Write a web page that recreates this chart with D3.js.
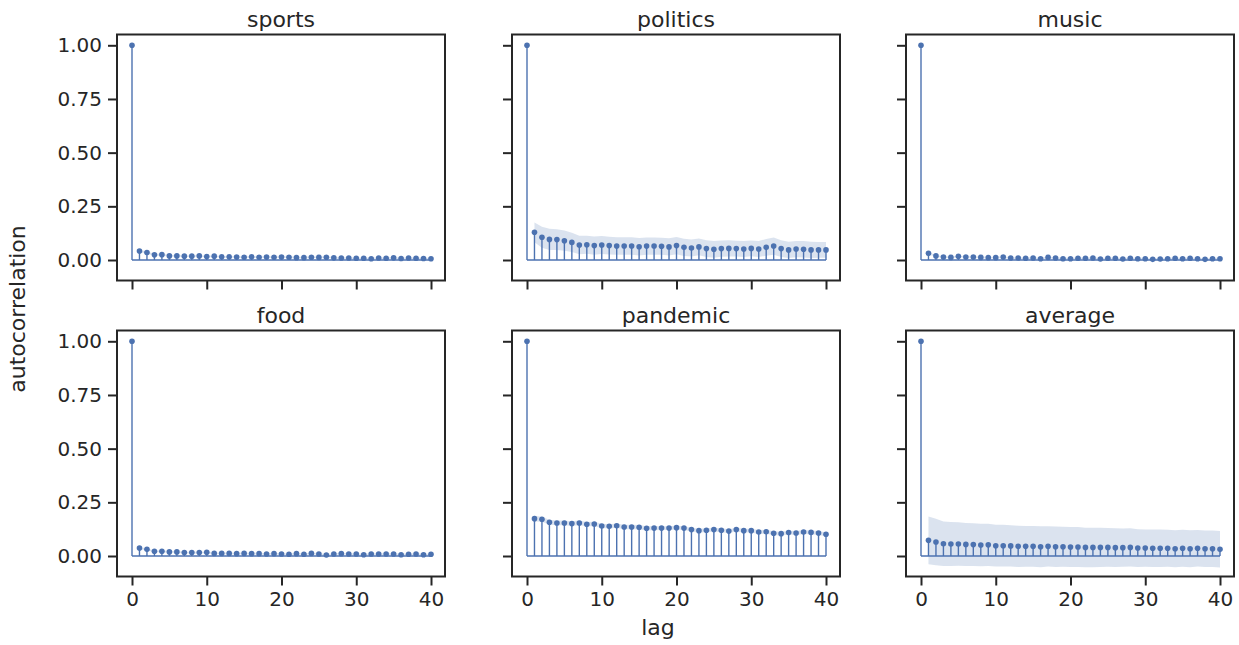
<!DOCTYPE html>
<html>
<head>
<meta charset="utf-8">
<script src="https://d3js.org/d3.v7.min.js"></script>
<style>
  body { margin: 0; background: #fff; }
  text { font-family: "DejaVu Sans", sans-serif; fill: #262626; }
</style>
</head>
<body>
<div id="chart"></div>
<script>
// lag 0..40
const lags = d3.range(0, 41)
const topics = ["sports", "politics", "music", "food", "pandemic", "average"]
const yTicks = [0, 0.25, 0.5, 0.75, 1]
const xTicks = [0, 10, 20, 30, 40]

// autocorrelation per lag (lag 0 .. 40)
const sports = [1, 0.042, 0.035, 0.024, 0.025, 0.019, 0.019, 0.018, 0.018, 0.019, 0.016,
  0.018, 0.015, 0.015, 0.014, 0.013, 0.015, 0.013, 0.014, 0.013, 0.014,
  0.013, 0.011, 0.011, 0.013, 0.012, 0.013, 0.010, 0.009, 0.009, 0.008,
  0.008, 0.006, 0.009, 0.008, 0.010, 0.007, 0.009, 0.008, 0.007, 0.006]
const politics = [1, 0.129, 0.106, 0.096, 0.095, 0.090, 0.082, 0.070, 0.071, 0.067, 0.070,
  0.067, 0.065, 0.065, 0.065, 0.062, 0.065, 0.065, 0.064, 0.061, 0.067,
  0.059, 0.056, 0.061, 0.053, 0.050, 0.053, 0.054, 0.053, 0.051, 0.054,
  0.051, 0.059, 0.065, 0.053, 0.047, 0.051, 0.050, 0.047, 0.047, 0.047]
const music = [1, 0.031, 0.019, 0.014, 0.012, 0.017, 0.014, 0.014, 0.012, 0.011, 0.011,
  0.014, 0.009, 0.009, 0.008, 0.009, 0.006, 0.012, 0.009, 0.006, 0.006,
  0.008, 0.008, 0.009, 0.005, 0.008, 0.008, 0.005, 0.008, 0.006, 0.006,
  0.003, 0.005, 0.006, 0.008, 0.006, 0.008, 0.006, 0.003, 0.006, 0.006]
const food = [1, 0.037, 0.031, 0.022, 0.022, 0.019, 0.019, 0.016, 0.016, 0.016, 0.017,
  0.012, 0.012, 0.012, 0.011, 0.012, 0.011, 0.011, 0.009, 0.011, 0.009,
  0.008, 0.011, 0.008, 0.012, 0.009, 0.005, 0.009, 0.011, 0.009, 0.009,
  0.006, 0.009, 0.009, 0.009, 0.009, 0.006, 0.008, 0.009, 0.006, 0.008]
const pandemic = [1, 0.174, 0.171, 0.157, 0.154, 0.154, 0.151, 0.154, 0.148, 0.149, 0.140,
  0.138, 0.141, 0.135, 0.135, 0.134, 0.129, 0.130, 0.130, 0.130, 0.132,
  0.130, 0.123, 0.118, 0.120, 0.123, 0.120, 0.116, 0.123, 0.118, 0.118,
  0.112, 0.113, 0.106, 0.104, 0.109, 0.107, 0.112, 0.110, 0.107, 0.101]
const average = [1, 0.073, 0.065, 0.057, 0.056, 0.056, 0.054, 0.053, 0.051, 0.052, 0.048,
  0.048, 0.047, 0.045, 0.045, 0.045, 0.043, 0.045, 0.043, 0.043, 0.042,
  0.042, 0.040, 0.040, 0.040, 0.040, 0.039, 0.039, 0.040, 0.037, 0.037,
  0.036, 0.036, 0.036, 0.034, 0.036, 0.034, 0.036, 0.034, 0.034, 0.031]

// confidence band half-width per lag (lag 1 .. 40)
const sportsBand = [0.006, 0.005, 0.005, 0.004, 0.004, 0.004, 0.004, 0.004, 0.004, 0.004,
  0.004, 0.004, 0.004, 0.004, 0.004, 0.004, 0.004, 0.004, 0.004, 0.004,
  0.004, 0.004, 0.004, 0.004, 0.004, 0.004, 0.004, 0.004, 0.004, 0.004,
  0.004, 0.004, 0.004, 0.004, 0.004, 0.004, 0.004, 0.004, 0.004, 0.004]
const politicsBand = [0.046, 0.049, 0.050, 0.048, 0.047, 0.045, 0.043, 0.042, 0.042, 0.042,
  0.041, 0.041, 0.041, 0.041, 0.041, 0.040, 0.040, 0.040, 0.040, 0.040,
  0.040, 0.040, 0.039, 0.039, 0.039, 0.038, 0.038, 0.037, 0.037, 0.037,
  0.037, 0.039, 0.040, 0.039, 0.038, 0.038, 0.038, 0.038, 0.037, 0.037]
const musicBand = [0.005, 0.004, 0.004, 0.004, 0.004, 0.004, 0.004, 0.004, 0.004, 0.004,
  0.004, 0.004, 0.004, 0.004, 0.004, 0.004, 0.004, 0.004, 0.004, 0.004,
  0.004, 0.004, 0.004, 0.004, 0.004, 0.004, 0.004, 0.004, 0.004, 0.004,
  0.004, 0.004, 0.004, 0.004, 0.004, 0.004, 0.004, 0.004, 0.004, 0.004]
const foodBand = [0.005, 0.004, 0.004, 0.004, 0.004, 0.004, 0.004, 0.004, 0.004, 0.004,
  0.004, 0.004, 0.004, 0.004, 0.004, 0.004, 0.004, 0.004, 0.004, 0.004,
  0.004, 0.004, 0.004, 0.004, 0.004, 0.004, 0.004, 0.004, 0.004, 0.004,
  0.004, 0.004, 0.004, 0.004, 0.004, 0.004, 0.004, 0.004, 0.004, 0.004]
const pandemicBand = [0.013, 0.012, 0.012, 0.011, 0.011, 0.011, 0.011, 0.010, 0.010, 0.010,
  0.010, 0.010, 0.010, 0.010, 0.010, 0.010, 0.010, 0.009, 0.009, 0.009,
  0.009, 0.009, 0.009, 0.009, 0.009, 0.009, 0.009, 0.009, 0.009, 0.009,
  0.009, 0.009, 0.009, 0.009, 0.009, 0.009, 0.009, 0.009, 0.009, 0.009]
const averageBand = [0.111, 0.108, 0.104, 0.102, 0.101, 0.100, 0.099, 0.099, 0.098, 0.097,
  0.097, 0.096, 0.096, 0.095, 0.095, 0.095, 0.094, 0.094, 0.093, 0.093,
  0.093, 0.092, 0.092, 0.091, 0.090, 0.090, 0.089, 0.089, 0.088, 0.087,
  0.087, 0.087, 0.086, 0.086, 0.086, 0.086, 0.085, 0.085, 0.085, 0.085]

const series = [sports, politics, music, food, pandemic, average]
const bands = [sportsBand, politicsBand, musicBand, foodBand, pandemicBand, averageBand]

width = 1239
height = 645
blue = "#4c72b0"
ink = "#262626"

colLeft = [117, 512, 906]
rowTop = [34.5, 330.5]
pw = 328
ph = 246

x = d3.scaleLinear().domain([0, 40]).range([15, 314])
y = d3.scaleLinear().domain([0, 1]).range([225.5, 10.8])

svg = d3.select("#chart").append("svg")
    .attr("width", width)
    .attr("height", height)

topics.forEach(function(name, i){
  col = i % 3
  row = Math.floor(i / 3)
  g = svg.append("g").attr("transform", "translate(" + colLeft[col] + "," + rowTop[row] + ")")

  acf = series[i]
  band = bands[i]

  // confidence band from lag 1
  area = d3.area()
    .x((d, j) => x(j + 1))
    .y0((d, j) => y(acf[j + 1] - d))
    .y1((d, j) => y(acf[j + 1] + d))
  g.append("path")
    .attr("d", area(band))
    .attr("fill", blue)
    .attr("fill-opacity", 0.2)

  // baseline
  g.append("line")
    .attr("x1", x(0)).attr("x2", x(40))
    .attr("y1", y(0)).attr("y2", y(0))
    .attr("stroke", blue).attr("stroke-width", 1.4)

  g.selectAll(".stem")
    .data(lags)
    .enter().append("line")
    .attr("class", "stem")
    .attr("x1", d => x(d)).attr("x2", d => x(d))
    .attr("y1", y(0)).attr("y2", d => y(acf[d]))
    .attr("stroke", blue).attr("stroke-width", 1.4)

  g.selectAll(".dot")
    .data(lags)
    .enter().append("circle")
    .attr("class", "dot")
    .attr("cx", d => x(d))
    .attr("cy", d => y(acf[d]))
    .attr("r", 2.8)
    .attr("fill", blue)

  // axes
  yAxis = d3.axisLeft(y).tickValues(yTicks).tickSize(9).tickPadding(6)
    .tickFormat(col == 0 ? d3.format(".2f") : "")
  ya = g.append("g").attr("transform", "translate(0,0)").call(yAxis)

  xAxis = d3.axisBottom(x).tickValues(xTicks).tickSize(9).tickPadding(6)
    .tickFormat(row == 1 ? d3.format("d") : "")
  xa = g.append("g").attr("transform", "translate(0," + ph + ")").call(xAxis)

  ;[ya, xa].forEach(function(a){
    a.select(".domain").remove()
    a.selectAll(".tick line").attr("stroke", ink).attr("stroke-width", 2)
    a.selectAll(".tick text").attr("font-size", 20).attr("font-family", "DejaVu Sans").attr("fill", ink)
  })

  // frame
  g.append("rect")
    .attr("width", pw).attr("height", ph)
    .attr("fill", "none")
    .attr("stroke", ink).attr("stroke-width", 2)

  g.append("text")
    .attr("x", pw / 2).attr("y", -7.5)
    .attr("text-anchor", "middle")
    .attr("font-size", 22)
    .text(name)
})

svg.append("text")
  .attr("x", 658).attr("y", 635)
  .attr("text-anchor", "middle")
  .attr("font-size", 22)
  .text("lag")

svg.append("text")
  .attr("transform", "translate(25,309) rotate(-90)")
  .attr("text-anchor", "middle")
  .attr("font-size", 22)
  .text("autocorrelation")
</script>
</body>
</html>
